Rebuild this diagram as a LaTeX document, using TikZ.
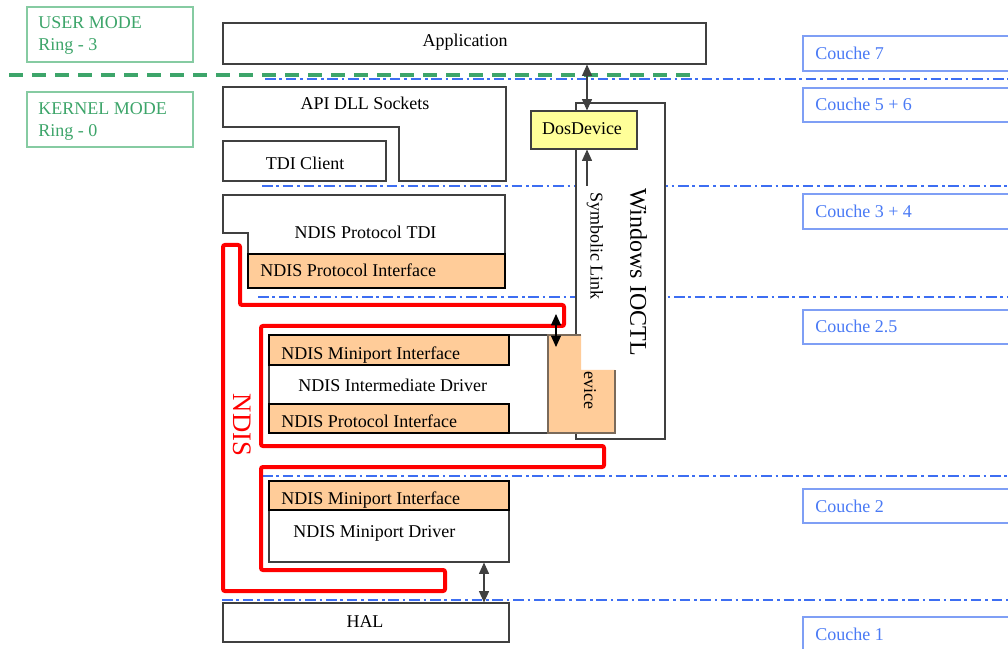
\documentclass[tikz,border=0pt]{standalone}
\usepackage{fontspec}
\setmainfont{Liberation Serif}
\usetikzlibrary{arrows.meta,fit}

\definecolor{peach}{HTML}{FFCC99}
\definecolor{lightyellow}{HTML}{FFFF99}
\definecolor{boxgray}{HTML}{404040}
\definecolor{ringgreen}{HTML}{3DA56A}
\definecolor{ringborder}{HTML}{86CBA2}
\definecolor{layerblue}{HTML}{3D6EF2}
\definecolor{couchetext}{HTML}{4A7AF5}
\definecolor{coucheborder}{HTML}{7F9FF5}
\definecolor{devborder}{HTML}{7A6A5A}
\definecolor{ndisred}{HTML}{FF0000}

\begin{document}
\begin{tikzpicture}[x=0.75pt,y=-0.75pt,
  font=\fontsize{13.5}{16}\selectfont,
  tip/.tip={Triangle[length=8.5pt,width=7.5pt]},
  box/.style={draw=boxgray, line width=0.8pt, fill=white, inner sep=0pt},
  iface/.style={box, fill=peach, draw=black},
  shapeline/.style={draw=boxgray, line width=0.8pt, fill=white},
  lbl/.style={inner sep=0pt, anchor=base},
  lbll/.style={inner sep=0pt, anchor=base west},
  layerline/.style={draw=layerblue, line width=1.9pt,
    dash pattern=on 8pt off 2.8pt on 2pt off 2.8pt},
  ringline/.style={draw=ringgreen, line width=3pt, dash pattern=on 10.5pt off 6.75pt},
  ringbox/.style={draw=ringborder, line width=1pt, fill=white, inner sep=0pt},
  ringtxt/.style={lbll, text=ringgreen},
  couchebox/.style={draw=coucheborder, line width=1pt, fill=white, inner sep=0pt},
  couchetxt/.style={lbll, text=couchetext},
  biarrow/.style={tip-tip, line width=0.8pt, draw=boxgray},
  ndisline/.style={draw=ndisred, line width=3pt, rounded corners=1.5pt},
  vtext/.style={inner sep=0pt, rotate=-90}
]
\useasboundingbox (0,0) rectangle (1008,649);
\clip (0,0) rectangle (1008,649);
\fill[white] (0,0) rectangle (1008,649);

% privilege rings
\node[ringbox, fit={(27,7) (193,62)}] (user) {};
\node[ringtxt] (usertxt) at (38,29) {USER MODE};
\node[ringtxt] (userring) at (38,51) {Ring - 3};
\node[ringbox, fit={(27,92) (193,147)}] (kernel) {};
\node[ringtxt] (kerneltxt) at (38,115) {KERNEL MODE};
\node[ringtxt] (kernelring) at (38,136.5) {Ring - 0};
\draw[ringline] (9,75) -- (692,75);

% OSI layer separators
\draw[layerline] (265,79) -- (1008,79);
\draw[layerline] (262,186) -- (1008,186);
\draw[layerline] (258,297) -- (1008,297);
\draw[layerline] (262,476) -- (1008,476);
\draw[layerline] (222,600) -- (1008,600);

% OSI layer labels
\node[couchebox, fit={(803,36) (1020,71)}] (c7) {};
\node[couchetxt] at (815,60) {Couche 7};
\node[couchebox, fit={(803,88) (1020,122)}] (c56) {};
\node[couchetxt] at (815,111) {Couche 5 + 6};
\node[couchebox, fit={(803,194) (1020,229)}] (c34) {};
\node[couchetxt] at (815,218) {Couche 3 + 4};
\node[couchebox, fit={(803,310) (1020,344)}] (c25) {};
\node[couchetxt] at (815,333) {Couche 2.5};
\node[couchebox, fit={(803,489) (1020,523)}] (c2) {};
\node[couchetxt] at (815,512) {Couche 2};
\node[couchebox, fit={(803,617) (1020,660)}] (c1) {};
\node[couchetxt] at (815,640) {Couche 1};

% user mode application
\node[box, fit={(223,23) (706,64)}] (app) {};
\node[lbl] (apptxt) at (465,47) {Application};

% sockets and TDI client
\draw[shapeline] (223,87) -- (506,87) -- (506,181) -- (399,181) -- (399,127)
  -- (223,127) -- cycle;
\node[lbl] (apitxt) at (365,110) {API DLL Sockets};
\node[box, fit={(223,141) (386,181)}] (tdic) {};
\node[lbl] (tdictxt) at (305,170) {TDI Client};

% Windows IOCTL path
\node[box, fit={(576,103) (665,439)}] (ioctl) {};
\node[vtext] (ioctltxt) at (638.5,272) {\fontsize{18}{20}\selectfont Windows IOCTL};
\node[vtext] (symtxt) at (595,246) {Symbolic Link};
\node[box, fill=lightyellow, fit={(531,111) (637,149)}] (dosdev) {};
\node[lbl] (dosdevtxt) at (582,135) {DosDevice};

% NDIS protocol driver
\draw[shapeline] (223,195) -- (505,195) -- (505,288) -- (248,288) -- (248,233)
  -- (223,233) -- cycle;
\node[lbl] (prottdi) at (365.5,239) {NDIS Protocol TDI};
\node[iface, fit={(248,254) (505,288)}] (protif) {};
\node[lbll] (protiftxt) at (260,277) {NDIS Protocol Interface};

% NDIS intermediate driver
\node[box, fit={(269,335) (548,433)}] (imd) {};
\node[iface, fit={(269,335) (509,365)}] (imdmp) {};
\node[lbll] (imdmptxt) at (281,359) {NDIS Miniport Interface};
\node[lbll] (imdtxt) at (298,392) {NDIS Intermediate Driver};
\node[iface, fit={(269,404) (509,433)}] (imdpr) {};
\node[lbll] (imdprtxt) at (281,427) {NDIS Protocol Interface};

% device object
\fill[peach] (548,335) -- (581,335) -- (581,370) -- (615,370) -- (615,433)
  -- (548,433) -- cycle;
\draw[devborder, line width=0.8pt] (581,335) -- (548,335) -- (548,433)
  -- (615,433) -- (615,370);
\node[vtext] (devtxt) at (590,390) {evice};

% NDIS miniport driver
\node[box, fit={(269,481) (509,562)}] (mpdrv) {};
\node[iface, fit={(269,481) (509,510)}] (mpif) {};
\node[lbll] (mpiftxt) at (281,504) {NDIS Miniport Interface};
\node[lbll] (mpdrvtxt) at (293,537) {NDIS Miniport Driver};

% hardware abstraction layer
\node[box, fit={(223,603) (509,642)}] (hal) {};
\node[lbl] (haltxt) at (365,627) {HAL};

% NDIS wrapper outline
\draw[ndisline] (223,245) -- (240,245) -- (240,305) -- (564,305) -- (564,326)
  -- (261,326) -- (261,446) -- (604,446) -- (604,467) -- (261,467) -- (261,570)
  -- (445,570) -- (445,591) -- (223,591) -- cycle;
\node[vtext, text=ndisred] (ndistxt) at (242,425) {\fontsize{20}{22}\selectfont NDIS};

% connectors
\coordinate (ioctlx) at (587,0);
\draw[biarrow] (app.south -| ioctlx) -- (dosdev.north -| ioctlx);
\coordinate (symlink) at (587,186);
\draw[-tip, line width=0.8pt, draw=boxgray] (symlink) -- (dosdev.south -| symlink);
\coordinate (ndisup) at (556,314);
\coordinate (ndisdown) at (556,347);
\draw[biarrow, draw=black] (ndisup) -- (ndisdown);
\coordinate (halx) at (484,0);
\draw[biarrow] (mpdrv.south -| halx) -- (hal.north -| halx);
\end{tikzpicture}
\end{document}
